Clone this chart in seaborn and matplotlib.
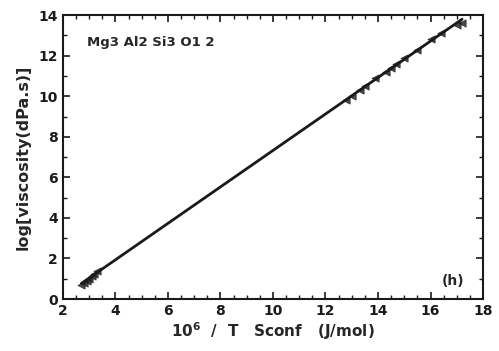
import numpy as np
import pandas as pd
import seaborn as sns
import matplotlib
matplotlib.use("Agg")
import matplotlib.pyplot as plt
from matplotlib.ticker import MultipleLocator

# Inverse configurational entropy term (10^6 / T Sconf) and log viscosity
inv_tsconf = [2.7, 2.8, 2.9, 3.0, 3.1, 3.2, 3.3,
              12.8, 13.0, 13.3, 13.5, 13.9, 14.3, 14.5, 14.7,
              15.0, 15.5, 16.0, 16.4, 17.0, 17.2]
log_visc = [0.7, 0.8, 0.9, 1.0, 1.15, 1.25, 1.4,
            9.8, 10.0, 10.3, 10.5, 10.9, 11.2, 11.4, 11.6,
            11.9, 12.3, 12.8, 13.1, 13.5, 13.6]

df = pd.DataFrame({"x": inv_tsconf, "y": log_visc})

sns.set_theme(style="ticks")
plt.rcParams["font.family"] = ["DejaVu Sans"]
plt.rcParams["font.weight"] = "bold"
plt.rcParams["mathtext.default"] = "bf"

fig = plt.figure(figsize=(4.99, 3.51), dpi=100)
ax = fig.add_axes([0.126, 0.148, 0.842, 0.809])

sns.regplot(data=df, x="x", y="y", ax=ax, ci=None, truncate=True,
            marker="<", color="#1a1a1a",
            scatter_kws={"s": 28, "edgecolor": "#1a1a1a", "linewidths": 0.5},
            line_kws={"lw": 2.0, "color": "#1a1a1a"})

ax.set_xlim(2, 18)
ax.set_ylim(0, 14)
ax.xaxis.set_major_locator(MultipleLocator(2))
ax.xaxis.set_minor_locator(MultipleLocator(0.5))
ax.yaxis.set_major_locator(MultipleLocator(2))
ax.yaxis.set_minor_locator(MultipleLocator(1))
ax.tick_params(which="both", direction="in", top=True, right=True,
               colors="#1a1a1a", labelsize=10)
ax.tick_params(which="major", length=5, width=1.2)
ax.tick_params(which="minor", length=3, width=1.0)
for lbl in ax.get_xticklabels() + ax.get_yticklabels():
    lbl.set_fontweight("bold")
for sp in ax.spines.values():
    sp.set_linewidth(1.5)
    sp.set_color("#1a1a1a")

ax.set_xlabel("10$^{6}$  /  T   Sconf   (J/mol)", fontsize=11,
              fontweight="bold", labelpad=2)
ax.set_ylabel("log[viscosity(dPa.s)]", fontsize=11.5, fontweight="bold",
              labelpad=6)

ax.text(0.057, 0.905, "Mg3 Al2 Si3 O1 2", transform=ax.transAxes,
        fontsize=9.5, fontweight="bold", va="center", ha="left")
ax.text(0.955, 0.065, "(h)", transform=ax.transAxes,
        fontsize=10, fontweight="bold", va="center", ha="right")

fig.savefig("out.png", dpi=100)
